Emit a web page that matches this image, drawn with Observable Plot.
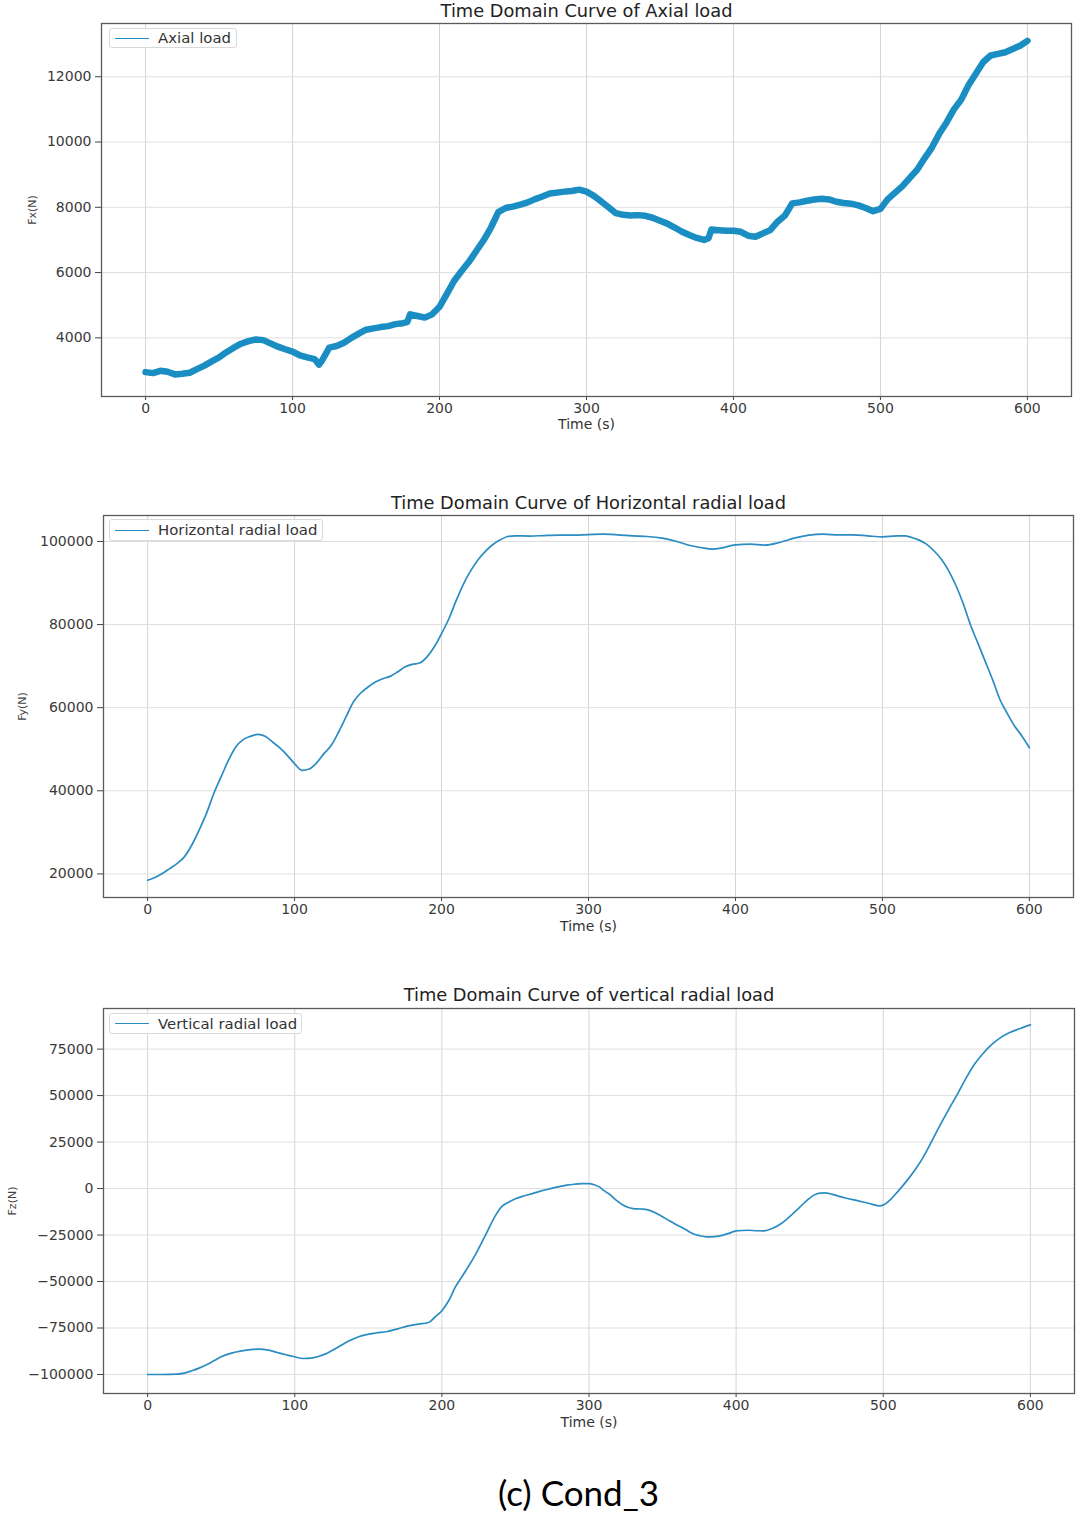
<!DOCTYPE html>
<html><head><meta charset="utf-8">
<script src="https://cdn.jsdelivr.net/npm/d3@7"></script>
<script src="https://cdn.jsdelivr.net/npm/@observablehq/plot@0.6"></script>
<style>
body{margin:0;background:#fff;}
#root{position:relative;width:1080px;height:1515px;font-family:"DejaVu Sans",sans-serif;overflow:hidden;}
.chart{position:absolute;left:0;}
.legend{position:absolute;border:1px solid #d9d9d9;border-radius:3px;background:rgba(255,255,255,0.85);font-size:14.9px;color:#333;display:flex;align-items:center;box-sizing:border-box;white-space:nowrap;}
.legend .sw{width:34px;height:0;margin:0 9px 0 5px;}
.caption{position:absolute;left:0;width:1157px;text-align:center;top:1471px;font-family:Lato,"Liberation Sans",sans-serif;font-size:35px;color:#000;}
</style>
</head><body>
<div id="root"></div>
<script>
// ---------- data ----------
const xTicks = [0, 100, 200, 300, 400, 500, 600];

const fxTime = [0,5,10,15,20,25,30,35,40,45,50,55,60,65,70,75,80,85,90,95,100,105,110,115,118,120,125,130,135,140,145,150,155,160,165,170,175,178,180,185,190,195,200,205,210,215,220,225,230,235,240,245,250,255,260,265,270,275,280,285,290,295,300,305,310,315,320,325,330,335,340,345,350,355,360,365,370,375,380,383,385,390,395,400,405,410,415,420,425,430,435,440,445,450,455,460,465,470,475,480,485,490,495,500,505,510,515,520,525,530,535,540,545,550,555,560,565,570,575,580,585,590,595,600];
const fxValues = [2950,2920,2990,2960,2880,2900,2930,3040,3150,3280,3400,3560,3700,3820,3900,3950,3930,3830,3730,3650,3580,3460,3400,3350,3180,3300,3700,3750,3850,4000,4130,4250,4290,4330,4360,4420,4450,4480,4720,4670,4620,4720,4950,5350,5750,6050,6330,6660,6990,7380,7850,7980,8020,8080,8150,8250,8330,8420,8450,8480,8500,8540,8480,8350,8180,8000,7820,7770,7750,7760,7740,7680,7590,7500,7380,7250,7150,7060,7000,7050,7320,7300,7280,7280,7250,7130,7100,7200,7300,7560,7750,8120,8150,8200,8240,8260,8240,8170,8130,8110,8060,7980,7880,7950,8250,8450,8650,8900,9150,9500,9830,10250,10600,11000,11300,11750,12100,12450,12650,12700,12750,12850,12950,13100];

const fyTime = [0,5,10,15,20,25,30,35,40,45,50,55,60,65,70,75,80,85,90,95,100,105,110,115,120,125,130,135,140,145,150,155,160,165,170,175,180,185,190,195,200,205,210,215,220,225,230,235,240,245,250,260,270,280,290,300,310,320,330,340,350,360,370,380,385,390,400,410,420,430,440,450,460,470,480,490,500,510,515,520,525,530,535,540,545,550,555,560,565,570,575,580,585,590,595,600];
const fyValues = [18480,19120,20080,21280,22480,24090,26890,30500,34500,39300,43330,47330,50540,52300,53100,53590,53100,51740,50300,48540,46530,44930,45250,46700,48940,50940,54150,57760,61360,63530,64970,66170,66970,67530,68580,69780,70420,70740,72180,74590,77800,81400,85810,89820,93030,95670,97680,99280,100400,101200,101360,101300,101430,101510,101510,101670,101750,101590,101350,101200,100800,100000,98960,98330,98170,98400,99200,99360,99120,99760,100800,101510,101750,101590,101590,101350,101120,101350,101350,100960,100320,99360,97770,95780,92990,89400,85020,79840,75460,71080,66690,61910,58570,55540,53150,50360];

const fzTime = [0,10,20,25,30,35,40,45,50,57,64,70,76,82,88,94,99,106,111,116,121,125,131,137,143,148,155,163,170,177,184,191,195,200,205,209,216,223,230,237,241,245,250,256,262,267,273,279,285,290,295,300,304,307,310,314,318,323,330,335,340,345,349,355,361,366,370,375,380,385,389,395,400,408,414,419,425,431,437,443,448,452,456,460,465,469,475,483,490,498,501,504,510,516,522,527,533,539,545,551,556,562,568,574,580,586,593,600];
const fzValues = [-100000,-100000,-99800,-99280,-98020,-96590,-94800,-92650,-90490,-88500,-87270,-86600,-86370,-86900,-88160,-89400,-90310,-91390,-91200,-90310,-88900,-87270,-84600,-81890,-79800,-78660,-77700,-76870,-75500,-73820,-72900,-72030,-69340,-65750,-59800,-53200,-44500,-35270,-24500,-13750,-9500,-7480,-5500,-3890,-2600,-1400,-200,900,1800,2330,2650,2690,1900,900,-1000,-3050,-6000,-8790,-10760,-11000,-11480,-13000,-14700,-17500,-20080,-22200,-24030,-25300,-26000,-25900,-25460,-24100,-22770,-22410,-22700,-22770,-21300,-18650,-14700,-10220,-6500,-3940,-2600,-2330,-3000,-3940,-5200,-6630,-7900,-9320,-8500,-6630,-1500,4120,10500,16670,25500,34600,43300,51640,59000,66880,72800,77640,81300,83910,86100,88040];

const fxTicks = [4000, 6000, 8000, 10000, 12000];
const fyTicks = [20000, 40000, 60000, 80000, 100000];
const fzTicks = [-100000, -75000, -50000, -25000, 0, 25000, 50000, 75000];

const titles = ["Time Domain Curve of Axial load", "Time Domain Curve of Horizontal radial load", "Time Domain Curve of vertical radial load"];
const legends = ["Axial load", "Horizontal radial load", "Vertical radial load"];
const yLabels = ["Fx(N)", "Fy(N)", "Fz(N)"];
const xLabel = "Time (s)";
const caption = "(c) Cond_3";

// ---------- drawing ----------
const fmt = d => String(d).replace("-", "\u2212");
const root = document.getElementById("root");

function chart(cfg) {
  const data = cfg.t.map((t, i) => ({t, v: cfg.v[i]}));
  const svg = Plot.plot({
    width: 1080, height: cfg.height,
    marginTop: cfg.mt, marginBottom: cfg.mb, marginLeft: cfg.ml, marginRight: cfg.mr,
    style: {fontFamily: "DejaVu Sans", fontSize: "14px", color: "#333", background: "transparent", overflow: "visible"},
    x: {domain: [-30, 630]},
    y: {domain: cfg.yDomain},
    marks: [
      Plot.gridX(xTicks, {stroke: "#d4d4d4", strokeOpacity: 1, strokeWidth: 1}),
      Plot.gridY(cfg.yTicks, {stroke: "#dedede", strokeOpacity: 1, strokeWidth: 1}),
      Plot.axisX(xTicks, {tickFormat: fmt, tickSize: 4, tickPadding: 3, label: null, stroke: "#444", fill: "#3a3a3a"}),
      Plot.axisY(cfg.yTicks, {tickFormat: fmt, tickSize: 6, tickPadding: 4, label: null, stroke: "#444", fill: "#3a3a3a"}),
      Plot.line(data, {x: "t", y: "v", stroke: cfg.color, strokeWidth: cfg.sw, curve: cfg.curve, strokeLinejoin: "round"}),
      Plot.frame({stroke: "#5a5a5a", strokeWidth: 1.3}),
      Plot.text([cfg.title], {frameAnchor: "top", dy: cfg.titleDy, lineAnchor: "middle", fontSize: 17.8, fill: "#222"}),
      Plot.text([xLabel], {frameAnchor: "bottom", dy: cfg.xlDy, lineAnchor: "middle", fontSize: 14, fill: "#333"}),
      Plot.text([cfg.yLabel], {frameAnchor: "left", dx: cfg.ylDx, rotate: -90, textAnchor: "middle", lineAnchor: "middle", fontSize: 11, fill: "#444"})
    ]
  });
  svg.classList.add("chart");
  svg.style.top = cfg.top + "px";
  root.appendChild(svg);

  const lg = document.createElement("div");
  lg.className = "legend";
  lg.style.left = cfg.lg[0] + "px";
  lg.style.top = cfg.lg[1] + "px";
  lg.style.width = cfg.lg[2] + "px";
  lg.style.height = cfg.lg[3] + "px";
  const sw = document.createElement("span");
  sw.className = "sw";
  sw.style.borderTop = "1.5px solid " + cfg.color;
  const tx = document.createElement("span");
  tx.textContent = cfg.legend;
  lg.appendChild(sw); lg.appendChild(tx);
  root.appendChild(lg);
}

chart({t: fxTime, v: fxValues, color: "#1a8dc2", sw: 6.5, curve: "linear",
  yDomain: [2203, 13631], yTicks: fxTicks, top: 0, height: 440, mt: 23, mb: 44, ml: 101, mr: 9,
  title: titles[0], legend: legends[0], yLabel: yLabels[0], titleDy: -12, xlDy: 28, ylDx: -69,
  lg: [109, 28, 128, 20]});

chart({t: fyTime, v: fyValues, color: "#2a8cc2", sw: 1.7, curve: "monotone-x",
  yDomain: [14320, 106250], yTicks: fyTicks, top: 490, height: 450, mt: 25, mb: 43, ml: 103, mr: 7,
  title: titles[1], legend: legends[1], yLabel: yLabels[1], titleDy: -12, xlDy: 29, ylDx: -81,
  lg: [109, 519, 214, 22]});

chart({t: fzTime, v: fzValues, color: "#2a8cc2", sw: 1.7, curve: "monotone-x",
  yDomain: [-110220, 96835], yTicks: fzTicks, top: 980, height: 450, mt: 28, mb: 37, ml: 103, mr: 6,
  title: titles[2], legend: legends[2], yLabel: yLabels[2], titleDy: -13, xlDy: 29, ylDx: -91,
  lg: [109, 1013, 193, 21]});

const cap = document.createElement("div");
cap.className = "caption";
cap.textContent = caption;
root.appendChild(cap);
</script>
</body></html>
